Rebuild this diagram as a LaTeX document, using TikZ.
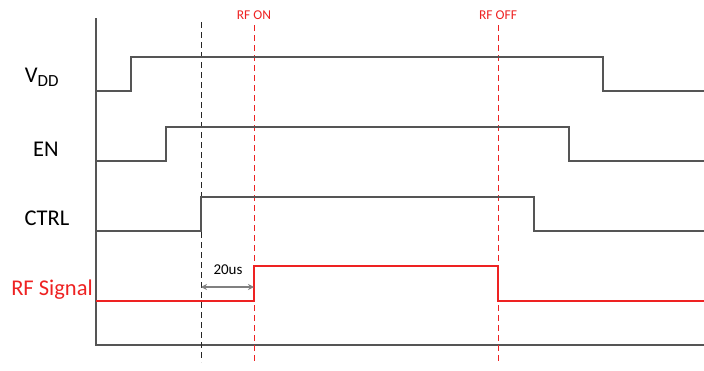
\documentclass[tikz,border=0pt]{standalone}
\usepackage{fontspec}
\setmainfont{Carlito}
\usetikzlibrary{arrows.meta}
\definecolor{sig}{HTML}{555555}
\definecolor{rfred}{HTML}{EE2222}
\tikzset{
  sigline/.style={draw=sig, line width=1.3pt},
  rfline/.style={draw=rfred, line width=1.1pt},
  guide/.style={dash pattern=on 6pt off 4pt, line width=0.9pt},
  lbl/.style={font=\fontsize{22.5}{22.5}\selectfont, inner sep=0pt},
  toplbl/.style={font=\fontsize{13.5}{13.5}\selectfont, text=rfred, inner sep=0pt},
}
\begin{document}
\begin{tikzpicture}[x=1pt,y=-1pt]
\useasboundingbox (0,0) rectangle (704,370);
% axes
\coordinate (atop) at (96,18);
\coordinate (aorig) at (96,345);
\coordinate (aend) at (704,345);
\draw[sig, line width=1.1pt] (atop) -- (aorig) -- (aend);
% guides
\coordinate (g1t) at (201,22); \coordinate (g1b) at (201,362);
\coordinate (g2t) at (254,25); \coordinate (g2b) at (254,362);
\coordinate (g3t) at (498,25); \coordinate (g3b) at (498,362);
\draw[guide, black!85] (g1t) -- (g1b);
\draw[guide, rfred] (g2t) -- (g2b);
\draw[guide, rfred] (g3t) -- (g3b);
\node[toplbl] (on) at (254,15) {RF ON};
\node[toplbl] (off) at (498,15) {RF OFF};
% signals
\draw[sigline] (96,91) -- (131,91) -- (131,57) -- (603,57) -- (603,91) -- (704,91);
\draw[sigline] (96,161) -- (166,161) -- (166,127) -- (569,127) -- (569,161) -- (704,161);
\draw[sigline] (96,231) -- (201,231) -- (201,197) -- (534,197) -- (534,231) -- (704,231);
\draw[rfline] (96,301) -- (254,301) -- (254,266) -- (498,266) -- (498,301) -- (704,301);
% labels
\node[lbl] (vdd) at (42,77) {V\textsubscript{\fontsize{17}{17}\selectfont DD}};
\node[lbl] (en) at (46,149) {EN};
\node[lbl] (ctrl) at (47,218) {CTRL};
\node[lbl, text=rfred] (rf) at (52,290) {RF Signal};
% 20us
\coordinate (d1) at (201,287);
\coordinate (d2) at (254,287);
\draw[{Stealth[length=6pt,width=6pt]}-{Stealth[length=6pt,width=6pt]}, draw=black!50, line width=2.2pt] (d1) -- (d2);
\node[font=\fontsize{15}{15}\selectfont, inner sep=0pt] (us) at (228,270) {20us};
\end{tikzpicture}
\end{document}
